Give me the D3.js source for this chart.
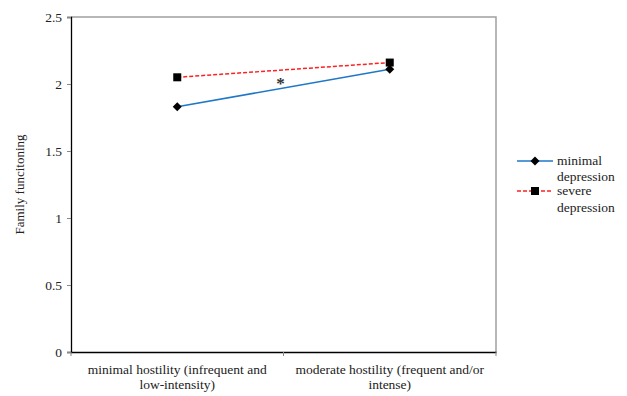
<!DOCTYPE html>
<html>
<head>
<meta charset="utf-8">
<script src="https://cdn.jsdelivr.net/npm/d3@7"></script>
<style>
  html, body { margin: 0; padding: 0; background: #fff; }
</style>
</head>
<body>
<svg id="chart" width="627" height="396"></svg>
<script>
const categories = ['minimal hostility (infrequent and low-intensity)', 'moderate hostility (frequent and/or intense)'];
const categoryLines = [['minimal hostility (infrequent and', 'low-intensity)'], ['moderate hostility (frequent and/or', 'intense)']];
const minimalDepression = [1.83, 2.11];
const severeDepression = [2.05, 2.16];
const yTicks = [0, 0.5, 1, 1.5, 2, 2.5];

const FONT = '"Times New Roman", "Liberation Serif", "DejaVu Serif", serif';

const svg = d3.select('#chart');
const margin = { left: 71, right: 131, top: 17, bottom: 44 };
const width = 627, height = 396;

const x = d3.scaleBand().domain(categories).range([margin.left, width - margin.right]);
const y = d3.scaleLinear().domain([0, 2.5]).range([height - margin.bottom, margin.top]);

// frame (top/right gray)
svg.append('path')
	.attr('d', `M${x.range()[0]},${y(2.5)}H${x.range()[1]}V${y(0)}`)
	.attr('fill', 'none')
	.attr('stroke', '#a0a0a0')
	.attr('stroke-width', 1.5);

// y axis
const yAxis = svg.append('g')
	.attr('transform', `translate(${margin.left},0)`)
	.call(d3.axisLeft(y).tickValues(yTicks).tickSize(4).tickFormat(d3.format('')));
yAxis.attr('font-family', FONT);
yAxis.select('.domain').attr('stroke', '#000').attr('stroke-width', 1.3);
yAxis.selectAll('.tick line').attr('stroke', '#888');
yAxis.selectAll('.tick text').attr('font-size', 13.5).attr('x', -9).attr('fill', '#222');

// x axis
const xAxis = svg.append('g')
	.attr('transform', `translate(0,${y(0)})`)
	.call(d3.axisBottom(x).tickValues([]).tickSizeOuter(0));
xAxis.select('.domain').attr('stroke', '#000').attr('stroke-width', 1.3);
const xTickPos = [x.range()[0], x.range()[0] + x.bandwidth(), x.range()[1]];
xAxis.selectAll('.xt').data(xTickPos).enter().append('line')
	.attr('x1', d => d).attr('x2', d => d).attr('y1', 0).attr('y2', 4)
	.attr('stroke', '#888');

categories.forEach((c, i) => {
	const t = svg.append('text')
		.attr('x', x(c) + x.bandwidth() / 2)
		.attr('y', y(0) + 22)
		.attr('text-anchor', 'middle')
		.attr('font-family', FONT)
		.attr('font-size', 13.5)
		.attr('fill', '#222');
	categoryLines[i].forEach((l, j) => {
		t.append('tspan').attr('x', x(c) + x.bandwidth() / 2).attr('dy', j ? 15 : 0).text(l);
	});
});

// y label
svg.append('text')
	.attr('transform', `translate(24,${(y(0) + y(2.5)) / 2}) rotate(-90)`)
	.attr('text-anchor', 'middle')
	.attr('font-family', FONT)
	.attr('font-size', 13)
	.attr('fill', '#222')
	.text('Family funcitoning');

const cx = c => x(c) + x.bandwidth() / 2;
const line = d3.line().x(d => cx(d[0])).y(d => y(d[1]));

const minimalPts = categories.map((c, i) => [c, minimalDepression[i]]);
const severePts = categories.map((c, i) => [c, severeDepression[i]]);

svg.append('path').datum(minimalPts).attr('d', line)
	.attr('fill', 'none').attr('stroke', '#1f77c8').attr('stroke-width', 1.5);
svg.append('path').datum(severePts).attr('d', line)
	.attr('fill', 'none').attr('stroke', '#ff2020').attr('stroke-width', 1.5).attr('stroke-dasharray', '4,2');

const diamond = 'M0,-4.5L4.5,0L0,4.5L-4.5,0Z';
svg.selectAll('.dm').data(minimalPts).enter().append('path')
	.attr('d', diamond)
	.attr('transform', d => `translate(${cx(d[0])},${y(d[1])})`)
	.attr('fill', '#000');
svg.selectAll('.sq').data(severePts).enter().append('rect')
	.attr('x', d => cx(d[0]) - 4).attr('y', d => y(d[1]) - 4)
	.attr('width', 8).attr('height', 8).attr('fill', '#000');

// significance marker
svg.append('text')
	.attr('x', (cx(categories[0]) + cx(categories[1])) / 2 - 3)
	.attr('y', y(1.96))
	.attr('text-anchor', 'middle')
	.attr('font-family', FONT)
	.attr('font-size', 17)
	.attr('font-weight', 'bold')
	.attr('fill', '#333')
	.text('*');

// legend
const lg = svg.append('g').attr('transform', 'translate(517,0)').attr('font-family', FONT);
lg.append('line').attr('x1', 0).attr('x2', 36).attr('y1', 161).attr('y2', 161)
	.attr('stroke', '#1f77c8').attr('stroke-width', 1.5);
lg.append('path').attr('d', diamond).attr('transform', 'translate(18,161)').attr('fill', '#000');
lg.append('line').attr('x1', 0).attr('x2', 36).attr('y1', 191).attr('y2', 191)
	.attr('stroke', '#ff2020').attr('stroke-width', 1.5).attr('stroke-dasharray', '4,2');
lg.append('rect').attr('x', 14).attr('y', 187).attr('width', 8).attr('height', 8).attr('fill', '#000');
[['minimal', 165], ['depression', 181], ['severe', 195], ['depression', 212]].forEach(([t, yy]) => {
	lg.append('text').attr('x', 40).attr('y', yy).attr('font-size', 13.5).attr('fill', '#222').text(t);
});
</script>
</body>
</html>
